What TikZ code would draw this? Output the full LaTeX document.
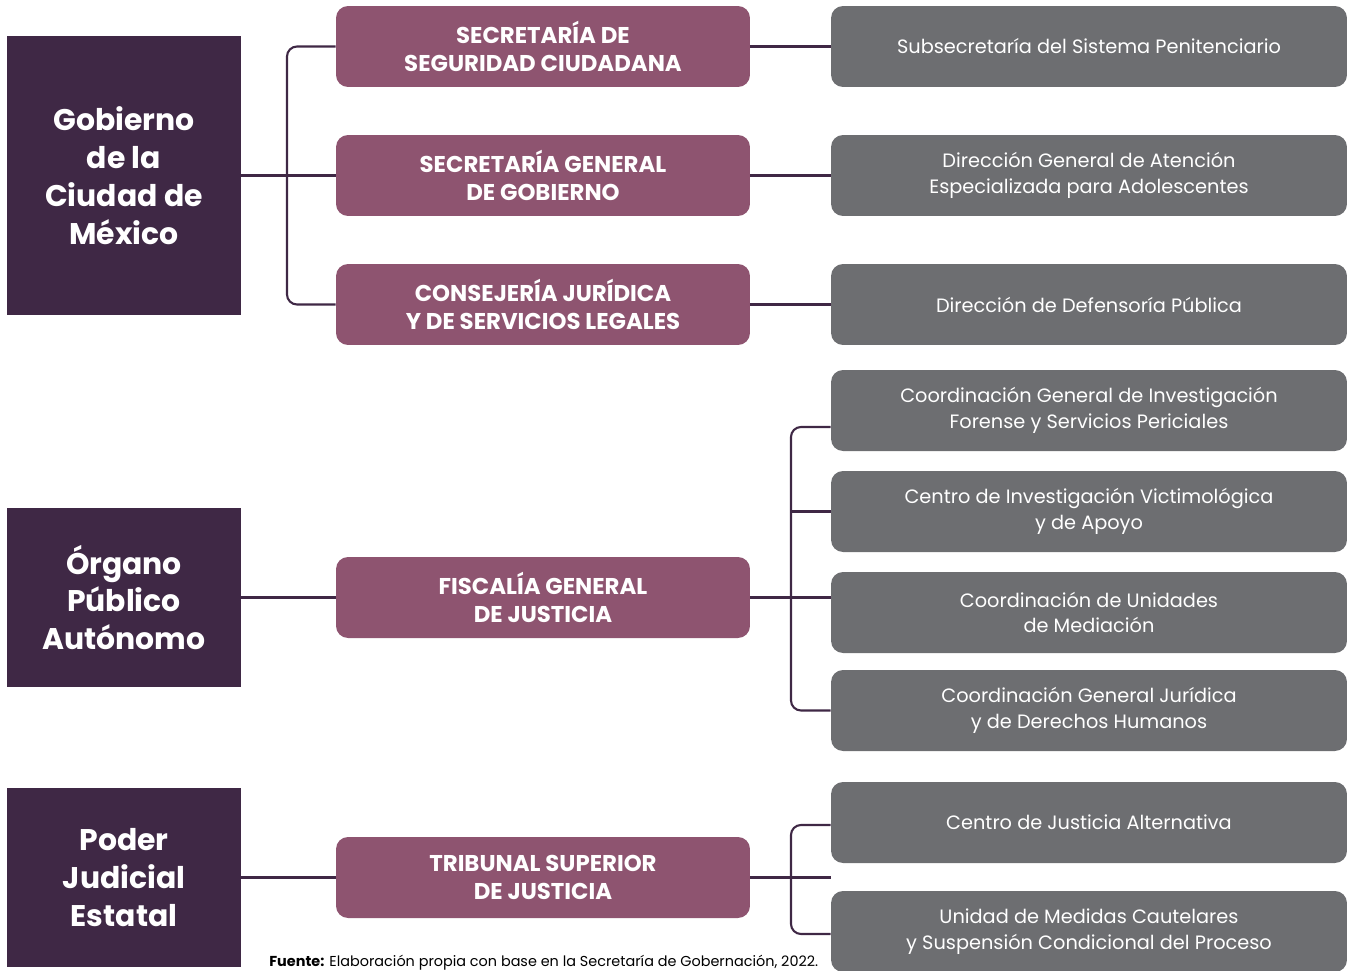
\documentclass[tikz,border=0pt]{standalone}
\usepackage{fontspec}
\setmainfont{Poppins}
\usepackage{xcolor}
\usepackage{tikz}
\usetikzlibrary{calc}
\definecolor{ciruela}{HTML}{3F2845}
\definecolor{malva}{HTML}{8E5470}
\definecolor{gris}{HTML}{6D6E71}
\tikzstyle{nivel} = [rectangle, fill=ciruela, text=white, minimum width=4.68cm, align=center, font=\fontsize{17}{21.5}\selectfont\bfseries]
\tikzstyle{entidad} = [rectangle, rounded corners=0.24cm, fill=malva, text=white, minimum width=8.28cm, minimum height=1.62cm, align=center, font=\fontsize{13}{16}\selectfont\bfseries]
\tikzstyle{unidad} = [rectangle, rounded corners=0.24cm, fill=gris, text=white, minimum width=10.32cm, minimum height=1.62cm, align=center, font=\fontsize{11}{14.7}\selectfont]
\tikzstyle{enlace} = [draw=ciruela, line width=1.2pt]

\begin{document}
\begin{tikzpicture}[x=0.02cm, y=-0.02cm]
		\useasboundingbox (0,0) rectangle (1347,971);
		% niveles de gobierno
		\node (Gobierno)[nivel, minimum height=5.58cm] at (124,175.5) {Gobierno\\de la\\Ciudad de\\México};
		\node (Organo)[nivel, minimum height=3.6cm] at (124,597.5) {Órgano\\Público\\Autónomo};
		\node (Poder)[nivel, minimum height=3.6cm] at (124,877.5) {Poder\\Judicial\\Estatal};
		% dependencias
		\node (SSC)[entidad] at (543,46.5) {SECRETARÍA DE\\SEGURIDAD CIUDADANA};
		\node (SGG)[entidad] at (543,175.5) {SECRETARÍA GENERAL\\DE GOBIERNO};
		\node (CJSL)[entidad] at (543,304.5) {CONSEJERÍA JURÍDICA\\Y DE SERVICIOS LEGALES};
		\node (FGJ)[entidad] at (543,597.5) {FISCALÍA GENERAL\\DE JUSTICIA};
		\node (TSJ)[entidad] at (543,877.5) {TRIBUNAL SUPERIOR\\DE JUSTICIA};
		% unidades
		\node (Penitenciario)[unidad] at (1089,46.5) {Subsecretaría del Sistema Penitenciario};
		\node (Adolescentes)[unidad] at (1089,175.5) {Dirección General de Atención\\Especializada para Adolescentes};
		\node (Defensoria)[unidad] at (1089,304.5) {Dirección de Defensoría Pública};
		\node (Forense)[unidad] at (1089,410.5) {Coordinación General de Investigación\\Forense y Servicios Periciales};
		\node (Victimologica)[unidad] at (1089,511.5) {Centro de Investigación Victimológica\\y de Apoyo};
		\node (Mediacion)[unidad] at (1089,612.5) {Coordinación de Unidades\\de Mediación};
		\node (Juridica)[unidad] at (1089,710.5) {Coordinación General Jurídica\\y de Derechos Humanos};
		\node (Alternativa)[unidad] at (1089,822.5) {Centro de Justicia Alternativa};
		\node (Cautelares)[unidad] at (1089,931.5) {Unidad de Medidas Cautelares\\y Suspensión Condicional del Proceso};
		% fuente
		\node (Fuente)[anchor=base west, inner sep=0, font=\fontsize{8.2}{10}\selectfont] at (269,966) {\textbf{Fuente:} Elaboración propia con base en la Secretaría de Gobernación, 2022.};
		% enlaces
		\coordinate (forkGob) at (287,175.5);
		\coordinate (forkFGJ) at (791,597.5);
		\coordinate (forkTSJ) at (791,877.5);
		\draw [enlace] (Gobierno.east) -- (SGG.west);
		\draw [enlace, rounded corners=0.2cm] (SSC.west) -| (forkGob) |- (CJSL.west);
		\draw [enlace] (Organo.east) -- (FGJ.west);
		\draw [enlace] (Poder.east) -- (TSJ.west);
		\draw [enlace] (SSC.east) -- (Penitenciario.west);
		\draw [enlace] (SGG.east) -- (Adolescentes.west);
		\draw [enlace] (CJSL.east) -- (Defensoria.west);
		\draw [enlace] (FGJ.east) -- (Mediacion.west |- FGJ.east);
		\draw [enlace, rounded corners=0.2cm] ($(Forense.west)+(0,16.5)$) -| (forkFGJ) |- (Juridica.west);
		\draw [enlace] (forkFGJ |- Victimologica.west) -- (Victimologica.west);
		\draw [enlace] (TSJ.east) -- (Alternativa.west |- TSJ.east);
		\draw [enlace, rounded corners=0.2cm] ($(Alternativa.west)+(0,2.5)$) -| (forkTSJ) |- ($(Cautelares.west)+(0,2.5)$);
	\end{tikzpicture}
\end{document}
